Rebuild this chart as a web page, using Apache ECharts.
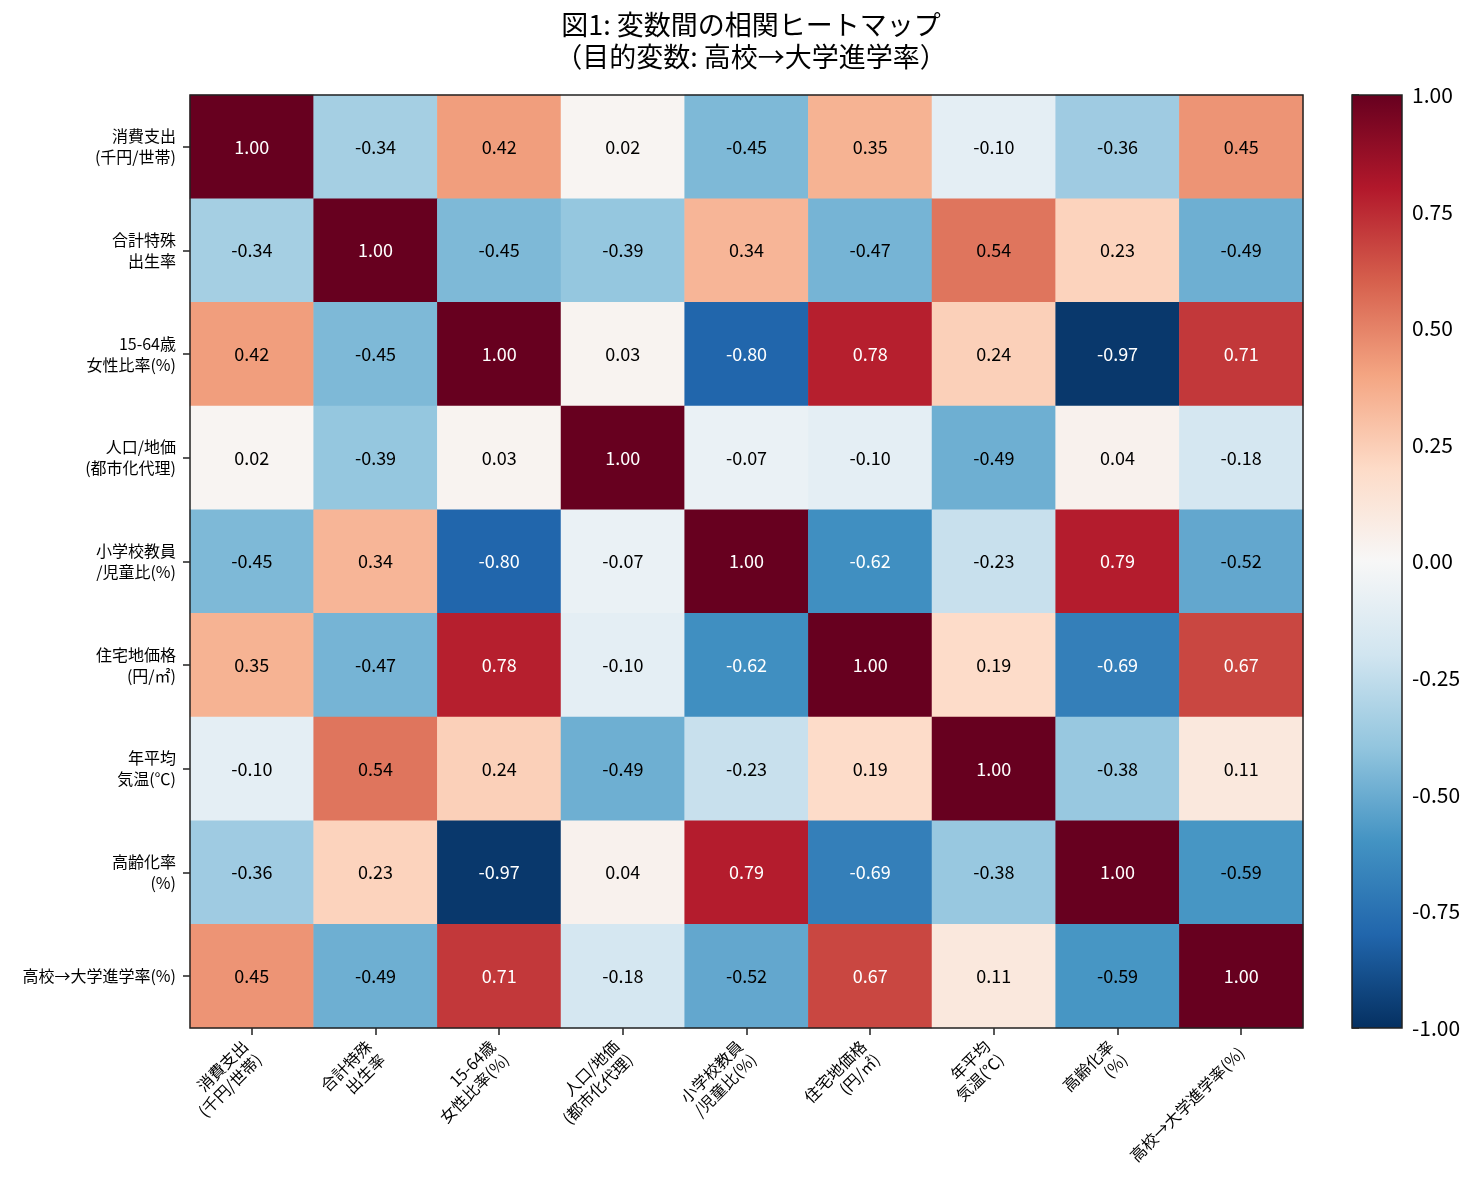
<!DOCTYPE html>
<html>
<head>
<meta charset="utf-8">
<script src="https://cdn.jsdelivr.net/npm/echarts@6/dist/echarts.min.js"></script>
<style>
html,body{margin:0;padding:0;background:#fff;}
#chart{width:1482px;height:1185px;}
</style>
</head>
<body>
<div id="chart"></div>
<script>
const categories = [
  "消費支出\n(千円/世帯)",
  "合計特殊\n出生率",
  "15-64歳\n女性比率(%)",
  "人口/地価\n(都市化代理)",
  "小学校教員\n/児童比(%)",
  "住宅地価格\n(円/㎡)",
  "年平均\n気温(℃)",
  "高齢化率\n(%)",
  "高校→大学進学率(%)"
];
const row0 = [1.00, -0.34, 0.42, 0.02, -0.45, 0.35, -0.10, -0.36, 0.45];
const row1 = [-0.34, 1.00, -0.45, -0.39, 0.34, -0.47, 0.54, 0.23, -0.49];
const row2 = [0.42, -0.45, 1.00, 0.03, -0.80, 0.78, 0.24, -0.97, 0.71];
const row3 = [0.02, -0.39, 0.03, 1.00, -0.07, -0.10, -0.49, 0.04, -0.18];
const row4 = [-0.45, 0.34, -0.80, -0.07, 1.00, -0.62, -0.23, 0.79, -0.52];
const row5 = [0.35, -0.47, 0.78, -0.10, -0.62, 1.00, 0.19, -0.69, 0.67];
const row6 = [-0.10, 0.54, 0.24, -0.49, -0.23, 0.19, 1.00, -0.38, 0.11];
const row7 = [-0.36, 0.23, -0.97, 0.04, 0.79, -0.69, -0.38, 1.00, -0.59];
const row8 = [0.45, -0.49, 0.71, -0.18, -0.52, 0.67, 0.11, -0.59, 1.00];
const matrix = [row0, row1, row2, row3, row4, row5, row6, row7, row8];
const colorbarTicks = [-1, -0.75, -0.5, -0.25, 0, 0.25, 0.5, 0.75, 1];

const rdbuR = ['#053061','#2166ac','#4393c3','#92c5de','#d1e5f0','#f7f7f7','#fddbc7','#f4a582','#d6604d','#b2182b','#67001f'];
const FONT = '"Noto Sans CJK JP", "Noto Sans", sans-serif';

const data = [];
matrix.forEach((row, i) => {
  row.forEach((v, j) => {
    data.push({
      value: [j, i, v],
      label: { color: Math.abs(v) > 0.6 ? '#ffffff' : '#000000' }
    });
  });
});

const chart = echarts.init(document.getElementById('chart'));
const gradStops = rdbuR.slice().reverse().map((c, k) => ({ offset: k / (rdbuR.length - 1), color: c }));

chart.setOption({
  backgroundColor: '#ffffff',
  animation: false,
  title: {
    text: '図1: 変数間の相関ヒートマップ\n（目的変数: 高校→大学進学率）',
    left: 746,
    textAlign: 'center',
    top: 4,
    textStyle: { fontFamily: FONT, fontSize: 27, fontWeight: 'normal', color: '#000', lineHeight: 32 }
  },
  grid: [
    { left: 190, top: 95, width: 1113, height: 933, show: true, borderColor: '#222', borderWidth: 1.5, backgroundColor: 'transparent', z: 10 },
    { left: 1352, top: 95, width: 50, height: 933, show: true, borderColor: '#222', borderWidth: 1.5, backgroundColor: 'transparent', z: 10 }
  ],
  xAxis: [
    {
      type: 'category', gridIndex: 0, data: categories, position: 'bottom',
      splitArea: { show: false }, splitLine: { show: false },
      axisLine: { show: false },
      axisTick: { show: true, alignWithLabel: true, length: 7, lineStyle: { color: '#222', width: 1.5 } },
      axisLabel: { rotate: 45, interval: 0, fontFamily: FONT, fontSize: 16, color: '#000', margin: 22, lineHeight: 19, align: 'right' }
    },
    { type: 'value', gridIndex: 1, min: 0, max: 1, show: false }
  ],
  yAxis: [
    {
      type: 'category', gridIndex: 0, data: categories, inverse: true,
      splitArea: { show: false }, splitLine: { show: false },
      axisLine: { show: false },
      axisTick: { show: true, alignWithLabel: true, length: 7, lineStyle: { color: '#222', width: 1.5 } },
      axisLabel: { interval: 0, fontFamily: FONT, fontSize: 16, color: '#000', margin: 14, lineHeight: 21, align: 'right' }
    },
    {
      type: 'value', gridIndex: 1, min: -1, max: 1, interval: 0.25, position: 'right',
      splitLine: { show: false },
      axisLine: { show: false },
      axisTick: { show: true, length: 7, lineStyle: { color: '#222', width: 1.5 } },
      axisLabel: { fontFamily: FONT, fontSize: 21, color: '#000', margin: 10, formatter: v => v.toFixed(2) }
    }
  ],
  visualMap: {
    type: 'continuous', min: -1, max: 1, show: false, seriesIndex: 0, dimension: 2,
    inRange: { color: rdbuR }
  },
  series: [
    {
      type: 'heatmap', xAxisIndex: 0, yAxisIndex: 0, data: data,
      label: { show: true, fontFamily: FONT, fontSize: 18, formatter: p => p.value[2].toFixed(2) },
      itemStyle: { borderWidth: 0 },
      emphasis: { disabled: true }
    },
    {
      type: 'custom', xAxisIndex: 1, yAxisIndex: 1,
      data: [[0, 1, -1]],
      renderItem: function (params, api) {
        const p0 = api.coord([0, 1]);
        const p1 = api.coord([1, -1]);
        return {
          type: 'rect',
          shape: { x: p0[0], y: p0[1], width: p1[0] - p0[0], height: p1[1] - p0[1] },
          style: { fill: new echarts.graphic.LinearGradient(0, 0, 0, 1, gradStops) }
        };
      },
      silent: true
    }
  ]
});
</script>
</body>
</html>
